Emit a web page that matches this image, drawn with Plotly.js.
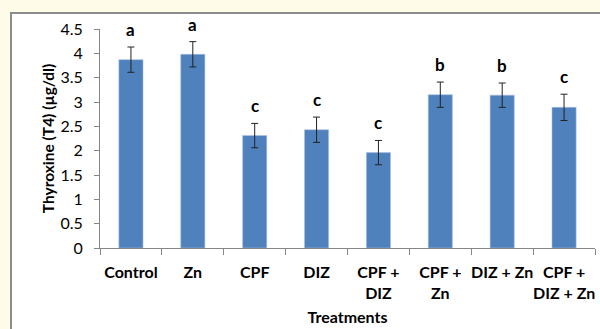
<!DOCTYPE html>
<html>
<head>
<meta charset="utf-8">
<script src="https://cdn.plot.ly/plotly-3.0.1.min.js"></script>
<style>
  html, body { margin: 0; padding: 0; background: #fffbe9; width: 600px; height: 329px; overflow: hidden; }
  #frame { position: absolute; left: 10px; top: 12px; width: 600px; height: 330px; background: #ffffff; border-left: 2px solid #8c8c8c; border-top: 2px solid #8c8c8c; }
  #chart { position: absolute; left: 0; top: 0; width: 600px; height: 329px; }
</style>
</head>
<body>
<div id="frame"></div>
<div id="chart"></div>
<script>
const categories = ["Control", "Zn", "CPF", "DIZ", "CPF +<br>DIZ", "CPF +<br>Zn", "DIZ + Zn", "CPF +<br>DIZ + Zn"];
const t4Means = [3.87, 3.98, 2.31, 2.43, 1.96, 3.15, 3.14, 2.89];
const t4Errors = [0.26, 0.26, 0.25, 0.26, 0.25, 0.26, 0.25, 0.27];
const letters = ["a", "a", "c", "c", "c", "b", "b", "c"];
const yTickVals = [0, 0.5, 1, 1.5, 2, 2.5, 3, 3.5, 4, 4.5];
const yTickText = ["0", "0.5", "1", "1.5", "2", "2.5", "3", "3.5", "4", "4.5"];

const FONT = "Lato, 'Open Sans', sans-serif";

const trace = {
  type: "bar",
  x: categories,
  y: t4Means,
  marker: { color: "#4f81bd", line: { color: "#a9c1e0", width: 0.6 } },
  error_y: { type: "data", array: t4Errors, visible: true, color: "#222222", thickness: 1, width: 3.5 },
  hoverinfo: "none"
};

const annotations = categories.map((c, i) => ({
  x: c, y: t4Means[i] + t4Errors[i], xref: "x", yref: "y",
  text: "<b>" + letters[i] + "</b>", showarrow: false,
  yanchor: "bottom", yshift: 5,
  font: { family: FONT, size: 17, color: "#000000" }
}));

const layout = {
  width: 600, height: 329,
  margin: { l: 100, r: 5, t: 29, b: 81, pad: 0 },
  paper_bgcolor: "rgba(0,0,0,0)",
  plot_bgcolor: "rgba(0,0,0,0)",
  bargap: 0.61,
  showlegend: false,
  xaxis: {
    type: "category",
    showline: true, linecolor: "#868686", linewidth: 1,
    ticks: "outside", tickson: "boundaries", ticklen: 6, tickcolor: "#868686",
    tickangle: 0,
    ticklabelstandoff: 10,
    tickfont: { family: FONT, size: 16, color: "#000000", weight: "bold" },
    title: { text: "<b>Treatments</b>", font: { family: FONT, size: 16, color: "#000000" }, standoff: 10 },
    showgrid: false, zeroline: false, fixedrange: true, automargin: false
  },
  yaxis: {
    range: [0, 4.5],
    tickvals: yTickVals, ticktext: yTickText,
    showline: true, linecolor: "#868686", linewidth: 1,
    ticks: "outside", ticklen: 5, tickcolor: "#868686",
    ticklabelstandoff: 8,
    tickfont: { family: FONT, size: 16, color: "#000000" },
    title: { text: "<b>Thyroxine (T4) (µg/dl)</b>", font: { family: FONT, size: 15.5, color: "#000000" }, standoff: 2 },
    showgrid: false, zeroline: false, fixedrange: true, automargin: false
  },
  annotations: annotations,
  font: { family: FONT }
};

Plotly.newPlot("chart", [trace], layout, { displayModeBar: false, staticPlot: true });
</script>
</body>
</html>
